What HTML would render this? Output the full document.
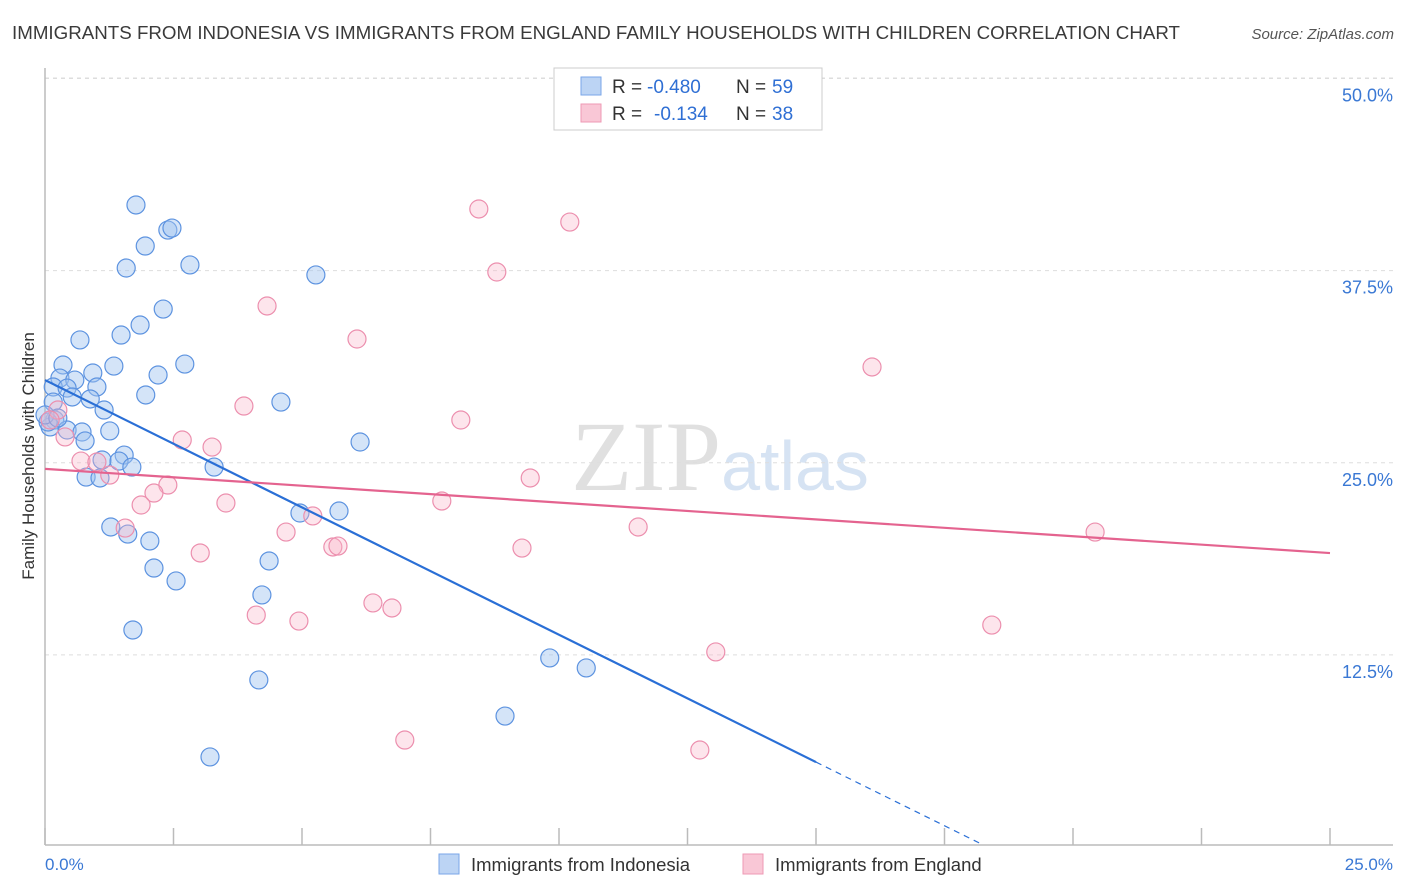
<!DOCTYPE html>
<html><head><meta charset="utf-8"><style>
body{margin:0;background:#fff;font-family:"Liberation Sans",sans-serif}
svg{display:block}
</style></head><body>
<svg id="chart" width="1406" height="892" xmlns="http://www.w3.org/2000/svg" font-family="Liberation Sans, sans-serif">
<text x="12" y="39" font-size="18.6" fill="#3a3a3a" textLength="1168" lengthAdjust="spacingAndGlyphs">IMMIGRANTS FROM INDONESIA VS IMMIGRANTS FROM ENGLAND FAMILY HOUSEHOLDS WITH CHILDREN CORRELATION CHART</text>
<text x="1394" y="39" font-size="15" fill="#555" text-anchor="end" font-style="italic">Source: ZipAtlas.com</text>
<text x="720" y="490" font-size="100" text-anchor="middle" fill="#e0e0e0" font-family="Liberation Serif, serif">ZIP<tspan fill="#d6e3f3" font-family="Liberation Sans, sans-serif" font-size="70">atlas</tspan></text>
<g id="grid"></g>
<line x1="45" y1="68" x2="45" y2="845" stroke="#bbb" stroke-width="1.5"/>
<line x1="45" y1="845" x2="1393" y2="845" stroke="#bbb" stroke-width="1.5"/>
<g id="xticks"></g>
<text transform="translate(34,456) rotate(-90)" font-size="17" fill="#333" text-anchor="middle">Family Households with Children</text>
<text x="45" y="870" font-size="17" fill="#3a78d4">0.0%</text>
<text x="1393" y="870" font-size="17" fill="#3a78d4" text-anchor="end">25.0%</text>
<g id="points"></g>
<g id="lines"></g>
<g>
<rect x="554" y="68" width="268" height="62" fill="#fff" stroke="#ccc"/>
<rect x="581" y="77" width="20" height="18" fill="#bcd4f4" stroke="#7aa6e8"/>
<rect x="581" y="104" width="20" height="18" fill="#f9c7d6" stroke="#ee9ab4"/>
<text x="612" y="93" font-size="19" fill="#333">R =</text>
<text x="647" y="93" font-size="19" fill="#2f6fd4">-0.480</text>
<text x="736" y="93" font-size="19" fill="#333">N =</text>
<text x="772" y="93" font-size="19" fill="#2f6fd4">59</text>
<text x="612" y="120" font-size="19" fill="#333">R =</text>
<text x="654" y="120" font-size="19" fill="#2f6fd4">-0.134</text>
<text x="736" y="120" font-size="19" fill="#333">N =</text>
<text x="772" y="120" font-size="19" fill="#2f6fd4">38</text>
</g>
<g>
<rect x="439" y="854" width="20" height="20" fill="#bcd4f4" stroke="#7aa6e8"/>
<text x="471" y="871" font-size="18.5" fill="#333">Immigrants from Indonesia</text>
<rect x="743" y="854" width="20" height="20" fill="#f9c7d6" stroke="#ee9ab4"/>
<text x="775" y="871" font-size="18.5" fill="#333">Immigrants from England</text>
</g>
</svg>
<script>
const yTicks=[50,37.5,25,12.5];
const xTickVals=[0,2.5,5,7.5,10,12.5,15,17.5,20,22.5,25];
const bluePx=[[136,205],[168,230],[172,228],[145,246],[126,268],[190,265],[316,275],[163,309],[140,325],[121,335],[80,340],[63,365],[114,366],[185,364],[60,378],[158,375],[93,373],[75,380],[53,387],[67,388],[97,387],[72,397],[90,399],[146,395],[281,402],[53,402],[104,410],[55,420],[50,427],[67,430],[82,432],[110,431],[85,441],[360,442],[124,455],[102,460],[119,461],[132,467],[214,467],[86,477],[100,478],[339,511],[300,513],[111,527],[128,534],[150,541],[269,561],[154,568],[176,581],[262,595],[133,630],[550,658],[586,668],[259,680],[505,716],[210,757],[48,422],[45,415],[58,418]];
const pinkPx=[[479,209],[570,222],[497,272],[267,306],[357,339],[872,367],[244,406],[58,410],[461,420],[50,420],[65,437],[182,440],[212,447],[81,461],[97,462],[110,475],[530,478],[168,485],[154,493],[141,505],[226,503],[442,501],[313,516],[638,527],[1095,532],[286,532],[125,528],[333,547],[338,546],[522,548],[200,553],[373,603],[392,608],[256,615],[299,621],[992,625],[716,652],[405,740],[700,750]];
// data values (x %, y %)
const blueX=bluePx.map(p=>+((p[0]-45)/51.4).toFixed(2));
const blueY=bluePx.map(p=>+((847-p[1])/15.37).toFixed(2));
const pinkX=pinkPx.map(p=>+((p[0]-45)/51.4).toFixed(2));
const pinkY=pinkPx.map(p=>+((847-p[1])/15.37).toFixed(2));
const blueFit=[30.38,-1.657];
const pinkFit=[24.6,-0.219];
const NS="http://www.w3.org/2000/svg";
const sx=v=>45+v*51.4, sy=v=>847-v*15.37;
function mk(tag,attrs,parent){const e=document.createElementNS(NS,tag);for(const k in attrs)e.setAttribute(k,attrs[k]);document.getElementById(parent).appendChild(e);return e;}
mk('line',{x1:45,y1:78,x2:1393,y2:78,stroke:'#ddd','stroke-dasharray':'4,4'},'grid');
yTicks.forEach(t=>{
 const l=mk('line',{x1:45,y1:sy(t),x2:1393,y2:sy(t),stroke:'#ddd','stroke-dasharray':'4,4'},'grid');
 
 
 const tx=mk('text',{x:1393,y:sy(t)+23,'font-size':18,fill:'#3a78d4','text-anchor':'end'},'grid');
 tx.textContent=t.toFixed(1)+'%';
 
 
});
xTickVals.forEach(t=>{
 const l=mk('line',{x1:sx(t),y1:828,x2:sx(t),y2:845,stroke:'#bbb','stroke-width':1.5},'xticks');
 
 
});
function pts(xs,ys,fill,stroke,name){xs.forEach((x,i)=>{
 const c=mk('circle',{cx:sx(x),cy:sy(ys[i]),r:9,fill:fill,stroke:stroke,'stroke-width':1.2},'points');
 
 
});}
pts(blueX,blueY,'rgba(160,195,240,0.45)','#5d93e0','indonesia-point');
pts(pinkX,pinkY,'rgba(248,180,200,0.35)','#ec8fae','england-point');
let b=mk('line',{x1:sx(0),y1:sy(blueFit[0]),x2:sx(15),y2:sy(blueFit[0]+blueFit[1]*15),stroke:'#2a6fd6','stroke-width':2.2},'lines');


let bd=mk('line',{x1:sx(15),y1:sy(blueFit[0]+blueFit[1]*15),x2:sx(18.2),y2:sy(blueFit[0]+blueFit[1]*18.2),stroke:'#2a6fd6','stroke-width':1.2,'stroke-dasharray':'6,5'},'lines');


let p=mk('line',{x1:sx(0),y1:sy(pinkFit[0]),x2:sx(25),y2:sy(pinkFit[0]+pinkFit[1]*25),stroke:'#e4638f','stroke-width':2.2},'lines');


</script>
</body></html>
